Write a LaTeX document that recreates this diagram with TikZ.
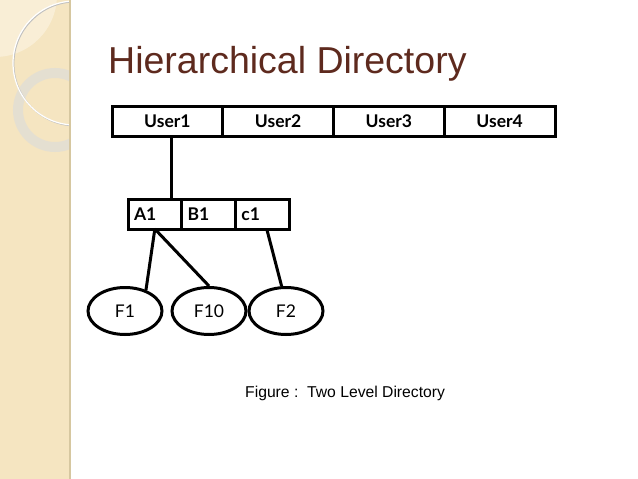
\documentclass[tikz,border=0pt]{standalone}
\usepackage{fontspec}
\setmainfont{Liberation Sans}
\newfontfamily\cellfont{Lato}
\usetikzlibrary{shapes.geometric,positioning}

\definecolor{titlebrown}{RGB}{94,42,30}
\definecolor{stripbeige}{RGB}{245,229,193}
\definecolor{striplight}{RGB}{249,238,214}
\definecolor{stripedge}{RGB}{214,199,160}
\definecolor{ringgrey}{RGB}{226,222,212}

\begin{document}
\begin{tikzpicture}[x=1pt,y=-1pt,
    usercell/.style={draw,line width=3pt,outer sep=0pt,minimum width=110.75pt,minimum height=30pt,inner sep=0pt,
        font=\cellfont\bfseries\fontsize{17.5}{20}\selectfont},
    dircell/.style={draw,line width=3pt,outer sep=0pt,text width=41.7pt,inner xsep=6pt,minimum height=30pt,align=left,
        font=\cellfont\bfseries\fontsize{17.5}{20}\selectfont},
    filenode/.style={draw,ellipse,line width=3pt,minimum width=74pt,minimum height=47pt,inner sep=0pt,
        font=\cellfont\fontsize{17.5}{20}\selectfont},
    link/.style={line width=3pt}]
    \useasboundingbox (0,0) rectangle (638,479);
    \fill[white] (0,0) rectangle (638,479);

    % left strip
    \begin{scope}
        \clip (0,0) rectangle (70,479);
        \fill[stripbeige] (0,0) rectangle (70,479);
        \fill[striplight] (-5,-5) circle[radius=62];
        \draw[ringgrey,opacity=0.85,line width=10pt] (55,110) circle[radius=37];
        \draw[black!25,line width=1.2pt] (75.8,63.8) circle[radius=62];
        \draw[white,line width=1.2pt] (75,63) circle[radius=62];
    \end{scope}
    \draw[stripedge,line width=1.5pt] (70,0)--(70,479);

    % title
    \node[anchor=base west,inner sep=0pt,text=titlebrown,font=\fontsize{37.5}{40}\selectfont] (title) at (108,73) {Hierarchical Directory};

    % first level
    \node[usercell] (user1) at (167.375,121) {User1};
    \foreach \i [remember=\i as \last (initially 1)] in {2,3,4} {
        \node[usercell,right=0pt of user\last] (user\i) {User\i};
    }

    % second level
    \node[dircell] (a1) at (154.85,214) {A1};
    \node[dircell,right=0pt of a1] (b1) {B1};
    \node[dircell,right=0pt of b1] (c1) {c1};

    % files
    \node[filenode] (f1) at (125,311) {F1};
    \node[filenode] (f10) at (209,311) {F10};
    \node[filenode] (f2) at (286,311) {F2};

    \draw[link] ([xshift=4.6pt]user1.south) -- ([xshift=4.6pt]user1.south |- a1.north);
    \draw[link] (a1.south) -- (f1.45);
    \draw[link] (a1.south) -- (f10.north);
    \draw[link] ([xshift=4.5pt]c1.south) -- (f2.100);

    \node[anchor=base west,inner sep=0pt,font=\fontsize{15.7}{18}\selectfont] (caption) at (245,397) {Figure :\ \ Two Level Directory};
\end{tikzpicture}
\end{document}
